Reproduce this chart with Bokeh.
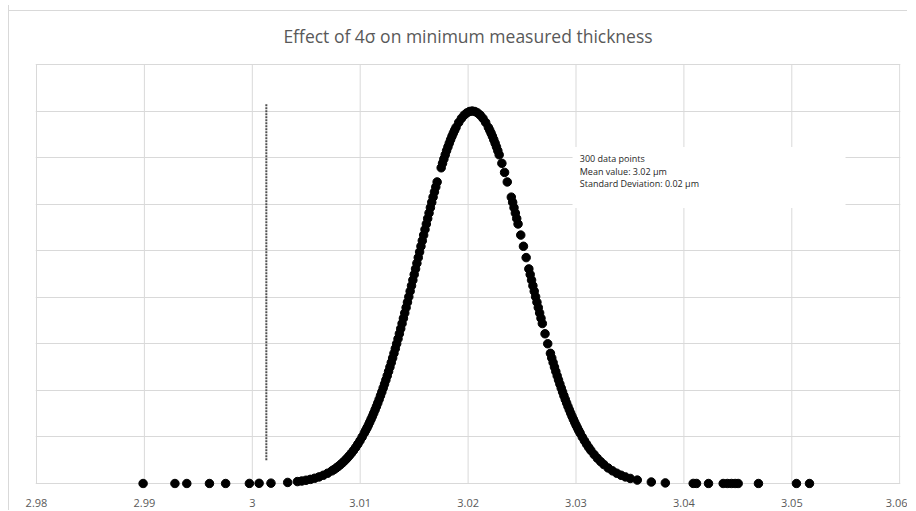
from bokeh.plotting import figure
from bokeh.models import Range1d, FixedTicker, Label, BoxAnnotation
from bokeh.embed import file_html
from bokeh.resources import INLINE

# ---------------- data ----------------
title_text = "Effect of 4\u03c3 on minimum measured thickness"

thickness = [
    2.98988, 2.99283, 2.99393, 2.99603, 2.99753, 2.99973, 3.00063, 3.00173, 3.00328,
    3.00418, 3.00458, 3.00498, 3.00538, 3.00578, 3.00618, 3.00658, 3.00698, 3.00738, 3.00758,
    3.00778, 3.00798, 3.00818, 3.00838, 3.00858, 3.00878, 3.00898, 3.00918, 3.00938, 3.00958,
    3.00978, 3.00998, 3.01018, 3.01038,
    3.010505, 3.01063, 3.010755, 3.01088, 3.011005, 3.01113, 3.011255, 3.01138, 3.011505, 3.01163,
    3.011755, 3.01188, 3.012005, 3.01213, 3.012255, 3.01238, 3.012505, 3.01263, 3.012755, 3.01288,
    3.013005, 3.01313, 3.013255, 3.01338, 3.013505, 3.01363, 3.013755, 3.01388, 3.014005, 3.01413,
    3.014255, 3.01438, 3.014505, 3.01463, 3.014755, 3.01488, 3.015005, 3.01513, 3.015255, 3.01538,
    3.015505, 3.01563, 3.015755, 3.01588, 3.016005, 3.01613, 3.016255, 3.01638, 3.016505, 3.01663,
    3.016755, 3.01688, 3.017005, 3.01713,
    3.017505, 3.01763, 3.017755, 3.01788, 3.018005, 3.01813, 3.018255, 3.01838, 3.018505, 3.01863,
    3.018755, 3.01888,
    3.01913, 3.01938, 3.01963, 3.01988, 3.02013, 3.02038, 3.02063, 3.02088, 3.02113, 3.02138, 3.02163,
    3.02188, 3.022005, 3.02213, 3.022255, 3.02238, 3.022505, 3.02263, 3.022755, 3.02288,
    3.02313, 3.02338, 3.02363,
    3.024005, 3.02413, 3.024255, 3.02438, 3.024505, 3.02463, 3.02488, 3.02513, 3.02538, 3.02563,
    3.025755, 3.02588, 3.026005, 3.02613, 3.026255, 3.02638, 3.026505, 3.02663, 3.026755, 3.02688,
    3.02713, 3.02738, 3.02763,
    3.027755, 3.02788, 3.028005, 3.02813, 3.028255, 3.02838, 3.028505, 3.02863, 3.028755, 3.02888,
    3.029005, 3.02913, 3.029255, 3.02938, 3.029505, 3.02963, 3.029755, 3.02988, 3.030005, 3.03013,
    3.030255,
    3.03038, 3.03058, 3.03078, 3.03098, 3.03118, 3.03138, 3.03168, 3.03198, 3.03228, 3.03258,
    3.03298, 3.03338, 3.03378, 3.03418, 3.03458, 3.03503, 3.03568, 3.03698, 3.03828,
    3.04086, 3.04117, 3.04228, 3.04364, 3.04403, 3.04441, 3.04475, 3.04503, 3.04691, 3.05043, 3.05164,
]

density = [
    0.00, 0.00, 0.00, 0.00, 0.00, 0.02, 0.04, 0.08, 0.23,
    0.42, 0.54, 0.70, 0.89, 1.13, 1.42, 1.77, 2.21, 2.72, 3.02,
    3.34, 3.70, 4.08, 4.49, 4.94, 5.42, 5.95, 6.51, 7.11, 7.76,
    8.46, 9.20, 9.99, 10.83,
    11.38, 11.95, 12.54, 13.16, 13.79, 14.45, 15.13, 15.83, 16.56, 17.30,
    18.07, 18.86, 19.67, 20.51, 21.36, 22.24, 23.14, 24.07, 25.01, 25.97,
    26.96, 27.96, 28.98, 30.02, 31.08, 32.16, 33.25, 34.36, 35.49, 36.63,
    37.78, 38.94, 40.11, 41.30, 42.49, 43.69, 44.89, 46.10, 47.31, 48.52,
    49.74, 50.95, 52.15, 53.36, 54.56, 55.74, 56.92, 58.09, 59.25, 60.39,
    61.51, 62.62, 63.70, 64.77,
    67.81, 68.77, 69.70, 70.60, 71.47, 72.30, 73.09, 73.85, 74.57, 75.25,
    75.88, 76.48,
    77.54, 78.42, 79.10, 79.60, 79.90, 80.00, 79.90, 79.60, 79.10, 78.42, 77.54,
    76.48, 75.88, 75.25, 74.57, 73.85, 73.09, 72.30, 71.47, 70.60,
    68.77, 66.82, 64.77,
    61.51, 60.39, 59.25, 58.09, 56.92, 55.74, 53.36, 50.95, 48.52, 46.10,
    44.89, 43.69, 42.49, 41.30, 40.11, 38.94, 37.78, 36.63, 35.49, 34.36,
    32.16, 30.02, 27.96,
    26.96, 25.97, 25.01, 24.07, 23.14, 22.24, 21.36, 20.51, 19.67, 18.86,
    18.07, 17.30, 16.56, 15.83, 15.13, 14.45, 13.79, 13.16, 12.54, 11.95,
    11.38,
    10.83, 9.99, 9.20, 8.46, 7.76, 7.11, 6.22, 5.42, 4.71, 4.08,
    3.34, 2.72, 2.21, 1.77, 1.42, 1.09, 0.74, 0.32, 0.13,
    0.02, 0.01, 0.00, 0.00, 0.00, 0.00, 0.00, 0.00, 0.00, 0.00, 0.00,
]

x_ticks = [2.98, 2.99, 3.0, 3.01, 3.02, 3.03, 3.04, 3.05, 3.06]
x_tick_labels = ["2.98", "2.99", "3", "3.01", "3.02", "3.03", "3.04", "3.05", "3.06"]
y_ticks = [0, 10, 20, 30, 40, 50, 60, 70, 80, 90]

cutoff_x = [3.0013, 3.0013]       # mean - 4 sigma marker
cutoff_y = [5.0, 81.6]

info_lines = ["300 data points", "Mean value: 3.02 \u00b5m", "Standard Deviation: 0.02 \u00b5m"]

# ---------------- styling ----------------
GRID = "#d9d9d9"
TEXT = "#595959"
FONT = "Open Sans"

p = figure(
    width=899, height=505,
    x_range=Range1d(2.979907, 3.060074),
    y_range=Range1d(-1.07, 90.21),
    output_backend="svg", toolbar_location=None,
    min_border_left=26, min_border_right=8, min_border_top=58, min_border_bottom=22,
    title=title_text,
)
# chart-area border: left edge and a top rule 5px below the top of the figure
p.styles = {"margin-top": "5px", "margin-left": "8px",
            "border-left": "1px solid #d9d9d9",
            "background": "linear-gradient(#d9d9d9, #d9d9d9) no-repeat 0 5px / 100% 1px"}
p.outline_line_color = None
p.background_fill_color = "white"
p.border_fill_color = None

p.title.align = "center"
p.title.text_font = FONT
p.title.text_font_size = "17.5px"
p.title.text_font_style = "normal"
p.title.text_color = TEXT
p.title.standoff = 31

# x axis
p.xaxis.ticker = FixedTicker(ticks=x_ticks)
p.xaxis.major_label_overrides = {t: l for t, l in zip(x_ticks, x_tick_labels)}
p.xaxis.axis_line_color = None
p.xaxis.major_tick_line_color = None
p.xaxis.minor_tick_line_color = None
p.xaxis.major_label_standoff = 4
p.xaxis.major_label_text_font = FONT
p.xaxis.major_label_text_font_size = "11px"
p.xaxis.major_label_text_color = TEXT
p.xgrid.visible = False

# y axis hidden, horizontal gridlines kept
p.yaxis.ticker = FixedTicker(ticks=y_ticks)
p.yaxis.visible = False
p.ygrid.ticker = FixedTicker(ticks=y_ticks)
p.ygrid.grid_line_color = GRID
p.ygrid.grid_line_width = 1

# vertical gridlines spanning 0..90
n = len(x_ticks)
p.segment(x0=x_ticks, y0=[y_ticks[0]] * n, x1=x_ticks, y1=[y_ticks[-1]] * n,
          line_color=GRID, line_width=1)

# white box behind the info text
p.add_layout(BoxAnnotation(left=3.02968, right=3.05498, bottom=59.2, top=72.3,
                           fill_color="white", fill_alpha=1.0, line_color=None))

# cutoff dotted line
p.line(x=cutoff_x, y=cutoff_y, line_color="#505050", line_width=2, line_dash="2 1")

# data points
p.scatter(x=thickness, y=density, size=8.5, marker="circle",
          fill_color="black", line_color="black")

# info text
for i, line in enumerate(info_lines):
    p.add_layout(Label(x=3.03035, y=69.74, text=line, y_offset=-12.5 * i,
                       text_font=FONT, text_font_size="9px", text_color="#262626",
                       text_baseline="middle", text_align="left"))

open("out.html", "w").write(file_html(p, INLINE))
